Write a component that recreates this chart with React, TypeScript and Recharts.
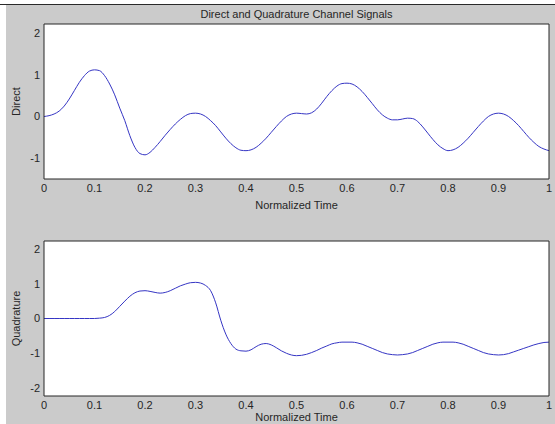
import { LineChart, Line, XAxis, YAxis, Label, CartesianGrid } from 'recharts'

const time = [
  0, 0.01, 0.02, 0.03, 0.04, 0.05, 0.06, 0.07, 0.08, 0.09,
  0.1, 0.11, 0.12, 0.13, 0.14, 0.15, 0.16, 0.17, 0.18, 0.19,
  0.2, 0.21, 0.22, 0.23, 0.24, 0.25, 0.26, 0.27, 0.28, 0.29,
  0.3, 0.31, 0.32, 0.33, 0.34, 0.35, 0.36, 0.37, 0.38, 0.39,
  0.4, 0.41, 0.42, 0.43, 0.44, 0.45, 0.46, 0.47, 0.48, 0.49,
  0.5, 0.51, 0.52, 0.53, 0.54, 0.55, 0.56, 0.57, 0.58, 0.59,
  0.6, 0.61, 0.62, 0.63, 0.64, 0.65, 0.66, 0.67, 0.68, 0.69,
  0.7, 0.71, 0.72, 0.73, 0.74, 0.75, 0.76, 0.77, 0.78, 0.79,
  0.8, 0.81, 0.82, 0.83, 0.84, 0.85, 0.86, 0.87, 0.88, 0.89,
  0.9, 0.91, 0.92, 0.93, 0.94, 0.95, 0.96, 0.97, 0.98, 0.99,
  1,
]

const directValues = [
  0, 0.02, 0.06, 0.13, 0.25, 0.42, 0.62, 0.82, 0.98, 1.09,
  1.12, 1.1, 0.98, 0.78, 0.52, 0.2, -0.1, -0.46, -0.74, -0.89,
  -0.92, -0.86, -0.74, -0.6, -0.45, -0.31, -0.18, -0.07, 0.02, 0.07,
  0.08, 0.06, 0, -0.1, -0.22, -0.37, -0.52, -0.65, -0.75, -0.81,
  -0.82, -0.8, -0.74, -0.64, -0.52, -0.38, -0.24, -0.11, 0, 0.06,
  0.08, 0.07, 0.06, 0.09, 0.18, 0.32, 0.48, 0.62, 0.73, 0.79,
  0.8, 0.78, 0.71, 0.6, 0.46, 0.31, 0.16, 0.04, -0.04, -0.08,
  -0.08, -0.06, -0.04, -0.05, -0.12, -0.25, -0.4, -0.55, -0.68, -0.77,
  -0.82, -0.8, -0.74, -0.64, -0.52, -0.38, -0.24, -0.11, 0, 0.06,
  0.08, 0.06, 0, -0.1, -0.22, -0.36, -0.5, -0.62, -0.72, -0.78,
  -0.82,
]

const quadratureValues = [
  0, 0, 0, 0, 0, 0, 0, 0, 0, 0,
  0, 0.01, 0.03, 0.09, 0.2, 0.35, 0.5, 0.64, 0.74, 0.79,
  0.8, 0.78, 0.75, 0.73, 0.75, 0.8, 0.87, 0.94, 0.99, 1.03,
  1.04, 1.02, 0.95, 0.8, 0.45, -0.05, -0.45, -0.72, -0.88, -0.93,
  -0.94, -0.9, -0.81, -0.74, -0.72, -0.76, -0.84, -0.93, -1, -1.05,
  -1.07, -1.06, -1.03, -0.98, -0.92, -0.85, -0.79, -0.73, -0.7, -0.68,
  -0.68, -0.68, -0.7, -0.74, -0.8, -0.86, -0.92, -0.98, -1.02, -1.04,
  -1.05, -1.04, -1.02, -0.98, -0.92, -0.86, -0.8, -0.74, -0.7, -0.68,
  -0.68, -0.68, -0.7, -0.74, -0.8, -0.86, -0.92, -0.98, -1.02, -1.04,
  -1.05, -1.04, -1.01, -0.96, -0.91, -0.86, -0.81, -0.76, -0.72, -0.69,
  -0.68,
]

const timeTicks = [0, 0.1, 0.2, 0.3, 0.4, 0.5, 0.6, 0.7, 0.8, 0.9, 1]
const directTicks = [-1, 0, 1, 2]
const quadratureTicks = [-2, -1, 0, 1, 2]

const FONT = '"Liberation Sans", Arial, Helvetica, sans-serif'
const INK = '#262626'
const TRACE = '#3535c4'

type Box = { x: number; y: number; width: number; height: number }

const tickFont = { fill: INK, fontSize: 11, fontFamily: FONT }

function Panel({
  values,
  ticks,
  domain,
  yLabel,
  title,
  plotTop,
  xAxisHeight,
}: {
  values: number[]
  ticks: number[]
  domain: [number, number]
  yLabel: string
  title?: string
  plotTop: number
  xAxisHeight: number
}) {
  const data = time.map((t, i) => ({ t, v: values[i] }))

  return (
    <LineChart width={555} height={212} data={data} margin={{ top: plotTop, right: 6, bottom: 0, left: 0 }}>
      <CartesianGrid xAxisId="main" yAxisId="main" fill="#ffffff" horizontal={false} vertical={false} />
      <XAxis
        xAxisId="main"
        dataKey="t"
        type="number"
        domain={[0, 1]}
        ticks={timeTicks}
        interval={0}
        allowDataOverflow
        height={xAxisHeight}
        axisLine={false}
        tickLine={false}
        tickSize={0}
        tickMargin={5}
        tick={tickFont}
      >
        <Label
          content={(p: any) => {
            const vb = p.viewBox as Box
            return (
              <text x={vb.x + vb.width / 2} y={vb.y + vb.height - 3} textAnchor="middle" fill={INK} fontSize={11} fontFamily={FONT}>
                Normalized Time
              </text>
            )
          }}
        />
      </XAxis>
      <XAxis
        xAxisId="bottomFrame"
        orientation="bottom"
        mirror
        type="number"
        domain={[0, 1]}
        ticks={timeTicks}
        interval={0}
        allowDataOverflow
        height={1}
        stroke={INK}
        tickSize={5}
        tick={false}
      />
      <XAxis
        xAxisId="topFrame"
        orientation="top"
        mirror
        type="number"
        domain={[0, 1]}
        ticks={timeTicks}
        interval={0}
        allowDataOverflow
        height={1}
        stroke={INK}
        tickSize={5}
        tick={false}
      >
        {title && (
          <Label
            content={(p: any) => {
              const vb = p.viewBox as Box
              return (
                <text x={vb.x + vb.width / 2} y={vb.y - 6} textAnchor="middle" fill={INK} fontSize={11} fontFamily={FONT}>
                  {title}
                </text>
              )
            }}
          />
        )}
      </XAxis>
      <YAxis
        yAxisId="main"
        type="number"
        domain={domain}
        ticks={ticks}
        interval={0}
        allowDataOverflow
        width={44}
        axisLine={false}
        tickLine={false}
        tickSize={0}
        tickMargin={4}
        tick={tickFont}
      >
        <Label
          content={(p: any) => {
            const vb = p.viewBox as Box
            const cx = 16
            const cy = vb.y + vb.height / 2
            return (
              <text
                x={cx}
                y={cy}
                transform={`rotate(-90 ${cx} ${cy})`}
                textAnchor="middle"
                dominantBaseline="central"
                fill={INK}
                fontSize={11}
                fontFamily={FONT}
              >
                {yLabel}
              </text>
            )
          }}
        />
      </YAxis>
      <YAxis
        yAxisId="leftFrame"
        orientation="left"
        mirror
        type="number"
        domain={domain}
        ticks={ticks}
        interval={0}
        allowDataOverflow
        width={1}
        stroke={INK}
        tickSize={5}
        tick={false}
      />
      <YAxis
        yAxisId="rightFrame"
        orientation="right"
        mirror
        type="number"
        domain={domain}
        ticks={ticks}
        interval={0}
        allowDataOverflow
        width={1}
        stroke={INK}
        tickSize={5}
        tick={false}
      />
      <Line
        xAxisId="main"
        yAxisId="main"
        dataKey="v"
        type="monotone"
        stroke={TRACE}
        strokeWidth={1}
        dot={false}
        isAnimationActive={false}
      />
    </LineChart>
  )
}

export default function App() {
  return (
    <div style={{ position: 'relative', width: 555, height: 424, background: '#ffffff', overflow: 'hidden' }}>
      <style>{'body{margin:0}'}</style>
      <div style={{ position: 'absolute', left: 0, top: 4, width: 555, height: 1, background: '#2a2a2a' }} />
      <div style={{ position: 'absolute', left: 6, top: 5, width: 549, height: 419, background: '#cbcbcb' }} />
      <div style={{ position: 'absolute', left: 0, top: 0 }}>
        <Panel
          values={directValues}
          ticks={directTicks}
          domain={[-1.5, 2.22]}
          yLabel="Direct"
          title="Direct and Quadrature Channel Signals"
          plotTop={24}
          xAxisHeight={33}
        />
      </div>
      <div style={{ position: 'absolute', left: 0, top: 212 }}>
        <Panel
          values={quadratureValues}
          ticks={quadratureTicks}
          domain={[-2.23, 2.23]}
          yLabel="Quadrature"
          plotTop={29}
          xAxisHeight={28}
        />
      </div>
    </div>
  )
}
